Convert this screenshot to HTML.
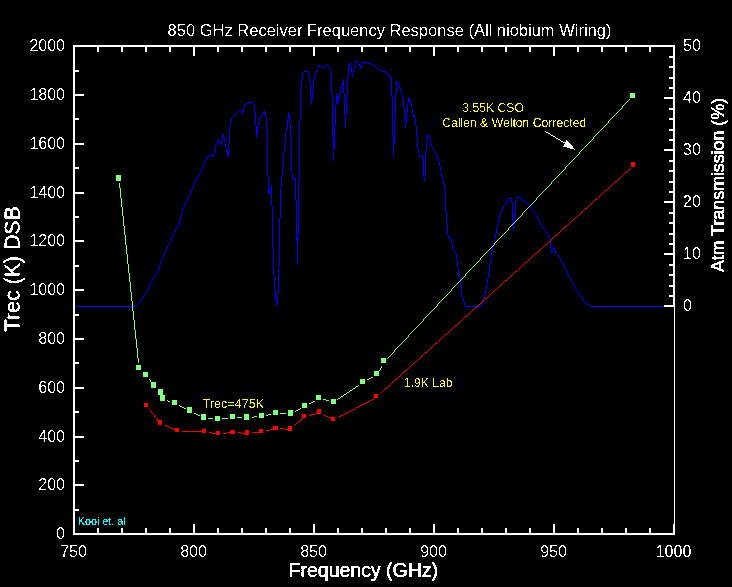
<!DOCTYPE html>
<html lang="en"><head><meta charset="utf-8"><title>850 GHz Receiver Frequency Response</title>
<style>
html,body{margin:0;padding:0;background:#000;}
body{width:732px;height:587px;overflow:hidden;}
svg{display:block;font-family:"Liberation Sans",sans-serif;}
</style></head>
<body>
<svg width="732" height="587" viewBox="0 0 732 587">
<rect width="732" height="587" fill="#000"/>
<g shape-rendering="crispEdges">
<path fill="none" stroke="#0000ff" stroke-width="1" d="M362 62.5h5M367 63.5h4M304 71.5h4M382 71.5h4M336 99.5h3M336 100.5h3M248 102.5h5M259 117.5h3M209 155.5h5M516 197.5h4M508 198.5h4M75 306.5h60M465 306.5h16M591 306.5h74M135.5 305v1M136.5 305v1M137.5 304v1M138.5 303v1M139.5 302v1M140.5 300v2M141.5 299v1M142.5 298v1M143.5 296v2M144.5 295v1M145.5 293v2M146.5 291v2M147.5 289v2M148.5 287v2M149.5 285v2M150.5 283v2M151.5 281v2M152.5 279v2M153.5 278v1M154.5 276v2M155.5 274v2M156.5 273v1M157.5 271v2M158.5 269v2M159.5 265v4M160.5 262v3M161.5 260v2M162.5 258v2M163.5 255v3M164.5 253v2M165.5 250v3M166.5 248v2M167.5 246v2M168.5 244v2M169.5 242v2M170.5 239v3M171.5 237v2M172.5 235v2M173.5 233v2M174.5 231v2M175.5 229v2M176.5 227v2M177.5 226v1M178.5 225v2M179.5 221v4M180.5 217v4M181.5 213v4M182.5 209v4M183.5 207v2M184.5 204v3M185.5 202v2M186.5 200v2M187.5 198v2M188.5 196v2M189.5 194v2M190.5 191v3M191.5 189v2M192.5 187v2M193.5 184v3M194.5 182v2M195.5 180v2M196.5 179v1M197.5 177v2M198.5 176v1M199.5 174v2M200.5 172v2M201.5 169v3M202.5 167v2M203.5 165v2M204.5 162v3M205.5 160v2M206.5 158v2M207.5 156v2M208.5 156v1M213.5 154v1M213.5 156v1M214.5 148v6M215.5 145v3M216.5 143v2M217.5 141v2M218.5 139v2M219.5 141v3M220.5 144v2M221.5 140v4M222.5 136v4M223.5 133v4M224.5 137v6M225.5 143v5M226.5 148v4M227.5 152v4M228.5 144v14M229.5 126v18M230.5 120v6M231.5 118v2M232.5 117v1M233.5 116v1M234.5 115v1M235.5 114v1M236.5 113v1M237.5 112v1M238.5 111v1M239.5 110v1M240.5 110v1M241.5 111v2M242.5 112v3M243.5 108v4M244.5 105v3M245.5 104v1M246.5 103v1M247.5 103v1M253.5 103v2M254.5 105v6M255.5 111v15M256.5 126v12M257.5 127v7M258.5 121v6M259.5 118v3M261.5 116v1M262.5 114v2M263.5 112v2M264.5 110v2M265.5 112v4M266.5 116v11M267.5 127v48M268.5 175v19M269.5 190v3M270.5 188v2M271.5 185v21M272.5 206v42M273.5 248v28M274.5 276v13M275.5 289v12M276.5 301v6M277.5 294v9M278.5 267v27M279.5 218v49M280.5 188v30M281.5 177v11M282.5 167v10M283.5 152v15M284.5 142v10M285.5 133v9M286.5 128v5M287.5 119v9M288.5 112v7M289.5 115v8M290.5 123v13M291.5 136v38M292.5 174v6M293.5 179v1M294.5 178v1M295.5 178v22M296.5 200v41M297.5 236v29M298.5 178v58M299.5 120v58M300.5 87v33M301.5 79v8M302.5 74v5M303.5 72v2M308.5 72v2M309.5 74v8M310.5 82v15M311.5 97v8M312.5 90v10M313.5 80v10M314.5 74v6M315.5 72v2M316.5 69v3M317.5 67v2M318.5 65v2M319.5 65v1M320.5 66v1M321.5 67v1M322.5 67v1M323.5 66v1M324.5 66v1M325.5 65v1M326.5 64v1M327.5 65v1M328.5 66v1M329.5 67v2M330.5 69v2M331.5 71v23M332.5 94v44M333.5 138v23M334.5 126v23M335.5 105v21M336.5 93v6M336.5 101v4M337.5 96v3M338.5 101v2M339.5 94v5M340.5 90v4M341.5 86v4M342.5 82v4M343.5 79v14M344.5 93v23M345.5 116v12M346.5 97v19M347.5 77v20M348.5 65v12M349.5 63v2M350.5 63v4M351.5 67v6M352.5 73v4M353.5 69v4M354.5 65v4M355.5 62v3M356.5 61v1M357.5 61v2M358.5 63v1M359.5 64v2M360.5 66v3M361.5 64v4M362.5 63v1M371.5 64v1M372.5 64v1M373.5 65v1M374.5 65v1M375.5 66v1M376.5 67v1M377.5 67v1M378.5 68v1M379.5 69v1M380.5 70v1M381.5 70v1M385.5 72v1M386.5 73v1M387.5 73v2M388.5 75v1M389.5 75v2M390.5 77v1M391.5 77v20M392.5 97v39M393.5 136v20M394.5 119v25M395.5 94v25M396.5 81v13M397.5 81v1M398.5 82v3M399.5 85v3M400.5 88v3M401.5 91v4M402.5 95v3M403.5 98v9M404.5 107v14M405.5 121v7M406.5 113v10M407.5 103v10M408.5 97v6M409.5 98v3M410.5 101v3M411.5 104v4M412.5 108v5M413.5 113v4M414.5 115v4M415.5 119v7M416.5 126v12M417.5 138v11M418.5 149v5M419.5 154v3M420.5 157v1M421.5 156v1M422.5 155v3M423.5 158v19M424.5 177v4M425.5 151v26M426.5 139v12M427.5 134v5M428.5 135v1M429.5 136v3M430.5 139v5M431.5 144v3M432.5 147v2M433.5 149v2M434.5 151v2M435.5 153v2M436.5 155v2M437.5 157v2M438.5 159v3M439.5 162v4M440.5 166v5M441.5 171v6M442.5 177v3M443.5 180v4M444.5 184v6M445.5 190v21M446.5 211v13M447.5 224v11M448.5 235v4M449.5 238v1M450.5 239v1M451.5 239v4M452.5 243v5M453.5 248v2M454.5 250v2M455.5 252v2M456.5 254v5M457.5 259v8M458.5 267v6M459.5 273v6M460.5 279v8M461.5 287v8M462.5 295v3M463.5 298v4M464.5 302v3M465.5 305v1M481.5 304v2M482.5 302v2M483.5 298v4M484.5 294v4M485.5 289v5M486.5 284v5M487.5 278v6M488.5 272v6M489.5 264v8M490.5 258v6M491.5 252v6M492.5 247v5M493.5 243v4M494.5 239v4M495.5 233v6M496.5 227v6M497.5 223v4M498.5 219v4M499.5 215v4M500.5 212v3M501.5 210v2M502.5 208v2M503.5 206v2M504.5 205v1M505.5 203v2M506.5 201v2M507.5 199v2M511.5 199v3M512.5 202v24M513.5 224v7M514.5 211v13M515.5 201v10M516.5 198v3M520.5 198v1M521.5 199v1M522.5 200v1M523.5 201v1M524.5 201v1M525.5 202v1M526.5 203v1M527.5 203v1M528.5 204v1M529.5 205v1M530.5 206v2M531.5 208v1M532.5 209v2M533.5 211v1M534.5 212v2M535.5 214v1M536.5 215v2M537.5 217v1M538.5 218v2M539.5 220v2M540.5 222v2M541.5 224v2M542.5 226v2M543.5 228v1M544.5 229v1M545.5 230v1M546.5 231v2M547.5 233v1M548.5 234v2M549.5 236v3M550.5 239v11M551.5 250v3M552.5 250v2M553.5 248v2M554.5 247v3M555.5 250v4M556.5 254v1M557.5 255v1M558.5 255v1M559.5 256v2M560.5 258v2M561.5 260v2M562.5 262v2M563.5 264v2M564.5 266v2M565.5 268v2M566.5 270v3M567.5 273v2M568.5 275v2M569.5 277v1M570.5 278v2M571.5 280v1M572.5 281v2M573.5 283v2M574.5 285v2M575.5 287v2M576.5 289v1M577.5 290v2M578.5 292v1M579.5 293v2M580.5 295v1M581.5 296v2M582.5 298v1M583.5 299v2M584.5 301v2M585.5 303v1M586.5 303v1M587.5 304v1M588.5 304v1M589.5 305v1M590.5 305v1"/>
<path fill="none" stroke="#80ff80" stroke-width="1" d="M323 399.5h3M326 400.5h3M280 413.5h6M268 414.5h3M254 416.5h3M237 417.5h5M208 418.5h5M222 418.5h6M119.5 183v5M120.5 188v10M121.5 198v9M122.5 207v9M123.5 216v10M124.5 226v9M125.5 235v10M126.5 245v9M127.5 254v10M128.5 264v9M129.5 273v9M130.5 282v10M131.5 292v9M132.5 301v10M133.5 311v9M134.5 320v10M135.5 330v9M136.5 339v9M137.5 348v10M138.5 358v5M149.5 379v1M150.5 380v2M167.5 400v1M168.5 401v1M169.5 401v1M179.5 405v1M180.5 406v1M181.5 406v1M182.5 407v1M183.5 407v1M184.5 408v1M185.5 408v1M194.5 413v1M195.5 413v1M196.5 414v1M197.5 414v1M198.5 415v1M199.5 415v1M252.5 417v1M253.5 417v1M266.5 415v1M267.5 415v1M295.5 411v1M296.5 410v1M297.5 410v1M298.5 409v1M299.5 409v1M300.5 408v1M309.5 403v1M310.5 403v1M311.5 402v1M312.5 402v1M313.5 401v1M314.5 401v1M337.5 399v1M338.5 398v1M339.5 398v1M340.5 397v1M341.5 396v1M342.5 396v1M343.5 395v1M344.5 394v1M345.5 394v1M346.5 393v1M347.5 392v1M348.5 392v1M349.5 391v1M350.5 390v1M351.5 390v1M352.5 389v1M353.5 388v1M354.5 388v1M355.5 387v1M356.5 386v1M357.5 386v1M358.5 385v1M367.5 379v1M368.5 379v1M369.5 378v1M370.5 378v1M371.5 377v1M372.5 377v1M379.5 370v1M380.5 368v2M381.5 366v2M387.5 358v1M388.5 357v1M389.5 356v1M390.5 355v1M391.5 354v1M392.5 353v1M393.5 352v1M394.5 350v2M395.5 349v1M396.5 348v1M397.5 347v1M398.5 346v1M399.5 345v1M400.5 344v1M401.5 343v1M402.5 342v1M403.5 341v1M404.5 340v1M405.5 339v1M406.5 338v1M407.5 337v1M408.5 335v2M409.5 334v1M410.5 333v1M411.5 332v1M412.5 331v1M413.5 330v1M414.5 329v1M415.5 328v1M416.5 327v1M417.5 326v1M418.5 325v1M419.5 324v1M420.5 323v1M421.5 322v1M422.5 321v1M423.5 319v2M424.5 318v1M425.5 317v1M426.5 316v1M427.5 315v1M428.5 314v1M429.5 313v1M430.5 312v1M431.5 311v1M432.5 310v1M433.5 309v1M434.5 308v1M435.5 307v1M436.5 306v1M437.5 304v2M438.5 303v1M439.5 302v1M440.5 301v1M441.5 300v1M442.5 299v1M443.5 298v1M444.5 297v1M445.5 296v1M446.5 295v1M447.5 294v1M448.5 293v1M449.5 292v1M450.5 291v1M451.5 289v2M452.5 288v1M453.5 287v1M454.5 286v1M455.5 285v1M456.5 284v1M457.5 283v1M458.5 282v1M459.5 281v1M460.5 280v1M461.5 279v1M462.5 278v1M463.5 277v1M464.5 276v1M465.5 274v2M466.5 273v1M467.5 272v1M468.5 271v1M469.5 270v1M470.5 269v1M471.5 268v1M472.5 267v1M473.5 266v1M474.5 265v1M475.5 264v1M476.5 263v1M477.5 262v1M478.5 261v1M479.5 260v1M480.5 258v2M481.5 257v1M482.5 256v1M483.5 255v1M484.5 254v1M485.5 253v1M486.5 252v1M487.5 251v1M488.5 250v1M489.5 249v1M490.5 248v1M491.5 247v1M492.5 246v1M493.5 245v1M494.5 243v2M495.5 242v1M496.5 241v1M497.5 240v1M498.5 239v1M499.5 238v1M500.5 237v1M501.5 236v1M502.5 235v1M503.5 234v1M504.5 233v1M505.5 232v1M506.5 231v1M507.5 230v1M508.5 228v2M509.5 227v1M510.5 226v1M511.5 225v1M512.5 224v1M513.5 223v1M514.5 222v1M515.5 221v1M516.5 220v1M517.5 219v1M518.5 218v1M519.5 217v1M520.5 216v1M521.5 215v1M522.5 213v2M523.5 212v1M524.5 211v1M525.5 210v1M526.5 209v1M527.5 208v1M528.5 207v1M529.5 206v1M530.5 205v1M531.5 204v1M532.5 203v1M533.5 202v1M534.5 201v1M535.5 200v1M536.5 198v2M537.5 197v1M538.5 196v1M539.5 195v1M540.5 194v1M541.5 193v1M542.5 192v1M543.5 191v1M544.5 190v1M545.5 189v1M546.5 188v1M547.5 187v1M548.5 186v1M549.5 185v1M550.5 184v1M551.5 182v2M552.5 181v1M553.5 180v1M554.5 179v1M555.5 178v1M556.5 177v1M557.5 176v1M558.5 175v1M559.5 174v1M560.5 173v1M561.5 172v1M562.5 171v1M563.5 170v1M564.5 169v1M565.5 167v2M566.5 166v1M567.5 165v1M568.5 164v1M569.5 163v1M570.5 162v1M571.5 161v1M572.5 160v1M573.5 159v1M574.5 158v1M575.5 157v1M576.5 156v1M577.5 155v1M578.5 154v1M579.5 152v2M580.5 151v1M581.5 150v1M582.5 149v1M583.5 148v1M584.5 147v1M585.5 146v1M586.5 145v1M587.5 144v1M588.5 143v1M589.5 142v1M590.5 141v1M591.5 140v1M592.5 139v1M593.5 137v2M594.5 136v1M595.5 135v1M596.5 134v1M597.5 133v1M598.5 132v1M599.5 131v1M600.5 130v1M601.5 129v1M602.5 128v1M603.5 127v1M604.5 126v1M605.5 125v1M606.5 124v1M607.5 123v1M608.5 121v2M609.5 120v1M610.5 119v1M611.5 118v1M612.5 117v1M613.5 116v1M614.5 115v1M615.5 114v1M616.5 113v1M617.5 112v1M618.5 111v1M619.5 110v1M620.5 109v1M621.5 108v1M622.5 106v2M623.5 105v1M624.5 104v1M625.5 103v1M626.5 102v1M627.5 101v1M628.5 100v1M629.5 99v1"/>
<rect x="116" y="175" width="5" height="6" fill="#80ff80"/>
<rect x="136" y="365" width="5" height="5" fill="#80ff80"/>
<rect x="143" y="372" width="5" height="5" fill="#80ff80"/>
<rect x="151" y="382" width="5" height="6" fill="#80ff80"/>
<rect x="158" y="389" width="5" height="6" fill="#80ff80"/>
<rect x="160" y="395" width="5" height="6" fill="#80ff80"/>
<rect x="172" y="400" width="5" height="5" fill="#80ff80"/>
<rect x="187" y="407" width="5" height="6" fill="#80ff80"/>
<rect x="201" y="414" width="5" height="6" fill="#80ff80"/>
<rect x="215" y="416" width="5" height="5" fill="#80ff80"/>
<rect x="230" y="414" width="5" height="5" fill="#80ff80"/>
<rect x="244" y="414" width="5" height="6" fill="#80ff80"/>
<rect x="259" y="413" width="5" height="5" fill="#80ff80"/>
<rect x="273" y="410" width="5" height="5" fill="#80ff80"/>
<rect x="288" y="410" width="5" height="6" fill="#80ff80"/>
<rect x="302" y="403" width="5" height="5" fill="#80ff80"/>
<rect x="316" y="395" width="5" height="5" fill="#80ff80"/>
<rect x="331" y="399" width="5" height="5" fill="#80ff80"/>
<rect x="360" y="379" width="5" height="5" fill="#80ff80"/>
<rect x="374" y="371" width="5" height="5" fill="#80ff80"/>
<rect x="381" y="358" width="5" height="5" fill="#80ff80"/>
<rect x="630" y="93" width="5" height="5" fill="#80ff80"/>
<path fill="none" stroke="#ff0000" stroke-width="1" d="M311 414.5h4M280 428.5h4M270 429.5h4M284 429.5h4M266 430.5h4M182 431.5h20M209 432.5h3M227 432.5h4M238 432.5h3M252 432.5h7M212 433.5h4M223 433.5h4M241 433.5h4M149.5 409v1M150.5 410v1M151.5 411v2M152.5 413v1M153.5 414v1M154.5 415v2M155.5 417v1M156.5 418v1M157.5 419v2M158.5 421v1M165.5 425v1M166.5 425v1M167.5 426v1M168.5 426v1M169.5 427v1M170.5 427v1M171.5 428v1M172.5 428v1M173.5 429v1M174.5 429v1M294.5 425v1M295.5 424v1M296.5 423v1M297.5 422v1M298.5 421v1M299.5 421v1M300.5 420v1M301.5 419v1M302.5 418v1M309.5 415v1M310.5 415v1M315.5 413v1M316.5 413v1M323.5 414v1M324.5 415v1M325.5 415v1M326.5 416v1M327.5 416v1M328.5 417v1M329.5 417v1M330.5 418v1M331.5 418v1M338.5 417v1M339.5 416v1M340.5 416v1M341.5 415v1M342.5 415v1M343.5 414v1M344.5 414v1M345.5 413v1M346.5 413v1M347.5 412v1M348.5 412v1M349.5 411v1M350.5 411v1M351.5 410v1M352.5 410v1M353.5 409v1M354.5 409v1M355.5 408v1M356.5 407v1M357.5 407v1M358.5 406v1M359.5 406v1M360.5 405v1M361.5 405v1M362.5 404v1M363.5 404v1M364.5 403v1M365.5 403v1M366.5 402v1M367.5 402v1M368.5 401v1M369.5 401v1M370.5 400v1M371.5 400v1M372.5 399v1M373.5 399v1M374.5 398v1M380.5 393v1M381.5 392v1M382.5 391v1M383.5 390v1M384.5 389v1M385.5 388v1M386.5 388v1M387.5 387v1M388.5 386v1M389.5 385v1M390.5 384v1M391.5 383v1M392.5 382v1M393.5 381v1M394.5 380v1M395.5 379v1M396.5 379v1M397.5 378v1M398.5 377v1M399.5 376v1M400.5 375v1M401.5 374v1M402.5 373v1M403.5 372v1M404.5 371v1M405.5 370v1M406.5 370v1M407.5 369v1M408.5 368v1M409.5 367v1M410.5 366v1M411.5 365v1M412.5 364v1M413.5 363v1M414.5 362v1M415.5 361v1M416.5 361v1M417.5 360v1M418.5 359v1M419.5 358v1M420.5 357v1M421.5 356v1M422.5 355v1M423.5 354v1M424.5 353v1M425.5 352v1M426.5 352v1M427.5 351v1M428.5 350v1M429.5 349v1M430.5 348v1M431.5 347v1M432.5 346v1M433.5 345v1M434.5 344v1M435.5 343v1M436.5 343v1M437.5 342v1M438.5 341v1M439.5 340v1M440.5 339v1M441.5 338v1M442.5 337v1M443.5 336v1M444.5 335v1M445.5 334v1M446.5 334v1M447.5 333v1M448.5 332v1M449.5 331v1M450.5 330v1M451.5 329v1M452.5 328v1M453.5 327v1M454.5 326v1M455.5 325v1M456.5 325v1M457.5 324v1M458.5 323v1M459.5 322v1M460.5 321v1M461.5 320v1M462.5 319v1M463.5 318v1M464.5 317v1M465.5 316v1M466.5 316v1M467.5 315v1M468.5 314v1M469.5 313v1M470.5 312v1M471.5 311v1M472.5 310v1M473.5 309v1M474.5 308v1M475.5 307v1M476.5 307v1M477.5 306v1M478.5 305v1M479.5 304v1M480.5 303v1M481.5 302v1M482.5 301v1M483.5 300v1M484.5 299v1M485.5 298v1M486.5 298v1M487.5 297v1M488.5 296v1M489.5 295v1M490.5 294v1M491.5 293v1M492.5 292v1M493.5 291v1M494.5 290v1M495.5 289v1M496.5 289v1M497.5 288v1M498.5 287v1M499.5 286v1M500.5 285v1M501.5 284v1M502.5 283v1M503.5 282v1M504.5 281v1M505.5 280v1M506.5 280v1M507.5 279v1M508.5 278v1M509.5 277v1M510.5 276v1M511.5 275v1M512.5 274v1M513.5 273v1M514.5 272v1M515.5 271v1M516.5 271v1M517.5 270v1M518.5 269v1M519.5 268v1M520.5 267v1M521.5 266v1M522.5 265v1M523.5 264v1M524.5 263v1M525.5 262v1M526.5 262v1M527.5 261v1M528.5 260v1M529.5 259v1M530.5 258v1M531.5 257v1M532.5 256v1M533.5 255v1M534.5 254v1M535.5 253v1M536.5 253v1M537.5 252v1M538.5 251v1M539.5 250v1M540.5 249v1M541.5 248v1M542.5 247v1M543.5 246v1M544.5 245v1M545.5 244v1M546.5 244v1M547.5 243v1M548.5 242v1M549.5 241v1M550.5 240v1M551.5 239v1M552.5 238v1M553.5 237v1M554.5 236v1M555.5 235v1M556.5 235v1M557.5 234v1M558.5 233v1M559.5 232v1M560.5 231v1M561.5 230v1M562.5 229v1M563.5 228v1M564.5 227v1M565.5 226v1M566.5 226v1M567.5 225v1M568.5 224v1M569.5 223v1M570.5 222v1M571.5 221v1M572.5 220v1M573.5 219v1M574.5 218v1M575.5 217v1M576.5 217v1M577.5 216v1M578.5 215v1M579.5 214v1M580.5 213v1M581.5 212v1M582.5 211v1M583.5 210v1M584.5 209v1M585.5 208v1M586.5 208v1M587.5 207v1M588.5 206v1M589.5 205v1M590.5 204v1M591.5 203v1M592.5 202v1M593.5 201v1M594.5 200v1M595.5 199v1M596.5 199v1M597.5 198v1M598.5 197v1M599.5 196v1M600.5 195v1M601.5 194v1M602.5 193v1M603.5 192v1M604.5 191v1M605.5 190v1M606.5 190v1M607.5 189v1M608.5 188v1M609.5 187v1M610.5 186v1M611.5 185v1M612.5 184v1M613.5 183v1M614.5 182v1M615.5 181v1M616.5 181v1M617.5 180v1M618.5 179v1M619.5 178v1M620.5 177v1M621.5 176v1M622.5 175v1M623.5 174v1M624.5 173v1M625.5 172v1M626.5 172v1M627.5 171v1M628.5 170v1M629.5 169v1M630.5 168v1"/>
<rect x="144" y="403" width="4" height="4" fill="#ff0000"/>
<rect x="158" y="420" width="4" height="5" fill="#ff0000"/>
<rect x="175" y="428" width="4" height="4" fill="#ff0000"/>
<rect x="202" y="429" width="4" height="4" fill="#ff0000"/>
<rect x="216" y="431" width="4" height="4" fill="#ff0000"/>
<rect x="230" y="430" width="5" height="4" fill="#ff0000"/>
<rect x="245" y="430" width="4" height="5" fill="#ff0000"/>
<rect x="259" y="429" width="4" height="4" fill="#ff0000"/>
<rect x="273" y="426" width="5" height="4" fill="#ff0000"/>
<rect x="288" y="426" width="4" height="5" fill="#ff0000"/>
<rect x="302" y="414" width="4" height="4" fill="#ff0000"/>
<rect x="317" y="409" width="4" height="5" fill="#ff0000"/>
<rect x="331" y="417" width="4" height="4" fill="#ff0000"/>
<rect x="374" y="394" width="4" height="4" fill="#ff0000"/>
<rect x="631" y="162" width="4" height="5" fill="#ff0000"/>
<rect x="73" y="45" width="2" height="490" fill="#fff"/>
<rect x="73" y="45" width="602" height="2" fill="#fff"/>
<rect x="73" y="533" width="602" height="2" fill="#fff"/>
<rect x="674" y="45" width="1" height="490" fill="#fff"/>
<rect x="673" y="45" width="2" height="262" fill="#fff"/>
<rect x="73" y="524" width="2" height="9" fill="#fff"/>
<rect x="73" y="47" width="2" height="9" fill="#fff"/>
<rect x="97" y="528" width="2" height="5" fill="#fff"/>
<rect x="97" y="47" width="2" height="5" fill="#fff"/>
<rect x="121" y="528" width="2" height="5" fill="#fff"/>
<rect x="121" y="47" width="2" height="5" fill="#fff"/>
<rect x="145" y="528" width="2" height="5" fill="#fff"/>
<rect x="145" y="47" width="2" height="5" fill="#fff"/>
<rect x="169" y="528" width="2" height="5" fill="#fff"/>
<rect x="169" y="47" width="2" height="5" fill="#fff"/>
<rect x="193" y="524" width="2" height="9" fill="#fff"/>
<rect x="193" y="47" width="2" height="9" fill="#fff"/>
<rect x="217" y="528" width="2" height="5" fill="#fff"/>
<rect x="217" y="47" width="2" height="5" fill="#fff"/>
<rect x="241" y="528" width="2" height="5" fill="#fff"/>
<rect x="241" y="47" width="2" height="5" fill="#fff"/>
<rect x="265" y="528" width="2" height="5" fill="#fff"/>
<rect x="265" y="47" width="2" height="5" fill="#fff"/>
<rect x="289" y="528" width="2" height="5" fill="#fff"/>
<rect x="289" y="47" width="2" height="5" fill="#fff"/>
<rect x="313" y="524" width="2" height="9" fill="#fff"/>
<rect x="313" y="47" width="2" height="9" fill="#fff"/>
<rect x="337" y="528" width="2" height="5" fill="#fff"/>
<rect x="337" y="47" width="2" height="5" fill="#fff"/>
<rect x="361" y="528" width="2" height="5" fill="#fff"/>
<rect x="361" y="47" width="2" height="5" fill="#fff"/>
<rect x="385" y="528" width="2" height="5" fill="#fff"/>
<rect x="385" y="47" width="2" height="5" fill="#fff"/>
<rect x="409" y="528" width="2" height="5" fill="#fff"/>
<rect x="409" y="47" width="2" height="5" fill="#fff"/>
<rect x="433" y="524" width="2" height="9" fill="#fff"/>
<rect x="433" y="47" width="2" height="9" fill="#fff"/>
<rect x="457" y="528" width="2" height="5" fill="#fff"/>
<rect x="457" y="47" width="2" height="5" fill="#fff"/>
<rect x="481" y="528" width="2" height="5" fill="#fff"/>
<rect x="481" y="47" width="2" height="5" fill="#fff"/>
<rect x="505" y="528" width="2" height="5" fill="#fff"/>
<rect x="505" y="47" width="2" height="5" fill="#fff"/>
<rect x="529" y="528" width="2" height="5" fill="#fff"/>
<rect x="529" y="47" width="2" height="5" fill="#fff"/>
<rect x="553" y="524" width="2" height="9" fill="#fff"/>
<rect x="553" y="47" width="2" height="9" fill="#fff"/>
<rect x="577" y="528" width="2" height="5" fill="#fff"/>
<rect x="577" y="47" width="2" height="5" fill="#fff"/>
<rect x="601" y="528" width="2" height="5" fill="#fff"/>
<rect x="601" y="47" width="2" height="5" fill="#fff"/>
<rect x="625" y="528" width="2" height="5" fill="#fff"/>
<rect x="625" y="47" width="2" height="5" fill="#fff"/>
<rect x="649" y="528" width="2" height="5" fill="#fff"/>
<rect x="649" y="47" width="2" height="5" fill="#fff"/>
<rect x="673" y="524" width="2" height="9" fill="#fff"/>
<rect x="673" y="47" width="2" height="9" fill="#fff"/>
<rect x="75" y="533" width="9" height="2" fill="#fff"/>
<rect x="75" y="509" width="4" height="2" fill="#fff"/>
<rect x="75" y="484" width="9" height="2" fill="#fff"/>
<rect x="75" y="460" width="4" height="2" fill="#fff"/>
<rect x="75" y="436" width="9" height="2" fill="#fff"/>
<rect x="75" y="411" width="4" height="2" fill="#fff"/>
<rect x="75" y="387" width="9" height="2" fill="#fff"/>
<rect x="75" y="362" width="4" height="2" fill="#fff"/>
<rect x="75" y="338" width="9" height="2" fill="#fff"/>
<rect x="75" y="314" width="4" height="2" fill="#fff"/>
<rect x="75" y="289" width="9" height="2" fill="#fff"/>
<rect x="75" y="265" width="4" height="2" fill="#fff"/>
<rect x="75" y="240" width="9" height="2" fill="#fff"/>
<rect x="75" y="216" width="4" height="2" fill="#fff"/>
<rect x="75" y="192" width="9" height="2" fill="#fff"/>
<rect x="75" y="167" width="4" height="2" fill="#fff"/>
<rect x="75" y="143" width="9" height="2" fill="#fff"/>
<rect x="75" y="118" width="4" height="2" fill="#fff"/>
<rect x="75" y="94" width="9" height="2" fill="#fff"/>
<rect x="75" y="70" width="4" height="2" fill="#fff"/>
<rect x="75" y="45" width="9" height="2" fill="#fff"/>
<rect x="664" y="305" width="9" height="2" fill="#fff"/>
<rect x="669" y="295" width="4" height="2" fill="#fff"/>
<rect x="669" y="285" width="4" height="2" fill="#fff"/>
<rect x="669" y="274" width="4" height="2" fill="#fff"/>
<rect x="669" y="264" width="4" height="2" fill="#fff"/>
<rect x="664" y="253" width="9" height="2" fill="#fff"/>
<rect x="669" y="243" width="4" height="2" fill="#fff"/>
<rect x="669" y="233" width="4" height="2" fill="#fff"/>
<rect x="669" y="222" width="4" height="2" fill="#fff"/>
<rect x="669" y="212" width="4" height="2" fill="#fff"/>
<rect x="664" y="201" width="9" height="2" fill="#fff"/>
<rect x="669" y="191" width="4" height="2" fill="#fff"/>
<rect x="669" y="181" width="4" height="2" fill="#fff"/>
<rect x="669" y="170" width="4" height="2" fill="#fff"/>
<rect x="669" y="160" width="4" height="2" fill="#fff"/>
<rect x="664" y="149" width="9" height="2" fill="#fff"/>
<rect x="669" y="139" width="4" height="2" fill="#fff"/>
<rect x="669" y="129" width="4" height="2" fill="#fff"/>
<rect x="669" y="118" width="4" height="2" fill="#fff"/>
<rect x="669" y="108" width="4" height="2" fill="#fff"/>
<rect x="664" y="97" width="9" height="2" fill="#fff"/>
<rect x="669" y="87" width="4" height="2" fill="#fff"/>
<rect x="669" y="77" width="4" height="2" fill="#fff"/>
<rect x="669" y="66" width="4" height="2" fill="#fff"/>
<rect x="669" y="56" width="4" height="2" fill="#fff"/>
<rect x="664" y="45" width="9" height="2" fill="#fff"/>
<line x1="545" y1="131.2" x2="565.5" y2="143.5" stroke="#fff" stroke-width="1"/><polygon points="575.8,150 566.5,140 563.2,146.5" fill="#fff"/>
</g>
<g>
<defs><filter id="fx" x="0" y="0" width="732" height="587" filterUnits="userSpaceOnUse" color-interpolation-filters="sRGB"><feComponentTransfer><feFuncA type="discrete" tableValues="0 0 0 0 0 0 0 0 0 1 1 1 1 1 1 1 1 1 1 1"/></feComponentTransfer></filter><filter id="fs" x="0" y="0" width="732" height="587" filterUnits="userSpaceOnUse" color-interpolation-filters="sRGB"><feComponentTransfer><feFuncA type="discrete" tableValues="0 0 0 0 0 0 0 0 0 0 0 1 1 1 1 1 1 1 1 1"/></feComponentTransfer></filter><filter id="fm" x="0" y="0" width="732" height="587" filterUnits="userSpaceOnUse" color-interpolation-filters="sRGB"><feComponentTransfer><feFuncA type="discrete" tableValues="0 0 0 0 0 0 0 0 0 0 0 1 1 1 1 1 1 1 1 1"/></feComponentTransfer></filter><filter id="fl" x="0" y="0" width="732" height="587" filterUnits="userSpaceOnUse" color-interpolation-filters="sRGB"><feComponentTransfer><feFuncA type="discrete" tableValues="0 0 0 0 0 1 1 1 1 1"/></feComponentTransfer></filter></defs>
<g filter="url(#fx)">
<text x="77.7" y="525" font-size="10.8" fill="#00ffff" text-anchor="start">Kooi et. al</text>
</g>
<g filter="url(#fs)">
<text x="462.3" y="112" font-size="12.2" fill="#ffff00" text-anchor="start">3.55K CSO</text>
<text x="442.2" y="127" font-size="12.2" fill="#ffff00" text-anchor="start">Callen &amp; Welton Corrected</text>
<text x="202.5" y="408" font-size="12.4" fill="#ffff00" text-anchor="start" letter-spacing="0.125">Trec=475K</text>
<text x="404" y="387" font-size="12.1" fill="#ffff00" text-anchor="start">1.9K Lab</text>
</g>
<g filter="url(#fm)">
<text transform="translate(65,539) scale(1,1.045)" font-size="16" fill="#fff" text-anchor="end">0</text>
<text transform="translate(65,490) scale(1,1.045)" font-size="16" fill="#fff" text-anchor="end">200</text>
<text transform="translate(65,442) scale(1,1.045)" font-size="16" fill="#fff" text-anchor="end">400</text>
<text transform="translate(65,393) scale(1,1.045)" font-size="16" fill="#fff" text-anchor="end">600</text>
<text transform="translate(65,344) scale(1,1.045)" font-size="16" fill="#fff" text-anchor="end">800</text>
<text transform="translate(65,295) scale(1,1.045)" font-size="16" fill="#fff" text-anchor="end">1000</text>
<text transform="translate(65,246) scale(1,1.045)" font-size="16" fill="#fff" text-anchor="end">1200</text>
<text transform="translate(65,198) scale(1,1.045)" font-size="16" fill="#fff" text-anchor="end">1400</text>
<text transform="translate(65,149) scale(1,1.045)" font-size="16" fill="#fff" text-anchor="end">1600</text>
<text transform="translate(65,100) scale(1,1.045)" font-size="16" fill="#fff" text-anchor="end">1800</text>
<text transform="translate(65,51) scale(1,1.045)" font-size="16" fill="#fff" text-anchor="end">2000</text>
<text transform="translate(73.5,557) scale(1,1.045)" font-size="16" fill="#fff" text-anchor="middle">750</text>
<text transform="translate(193.5,557) scale(1,1.045)" font-size="16" fill="#fff" text-anchor="middle">800</text>
<text transform="translate(313.5,557) scale(1,1.045)" font-size="16" fill="#fff" text-anchor="middle">850</text>
<text transform="translate(433.5,557) scale(1,1.045)" font-size="16" fill="#fff" text-anchor="middle">900</text>
<text transform="translate(553.5,557) scale(1,1.045)" font-size="16" fill="#fff" text-anchor="middle">950</text>
<text transform="translate(673.5,557) scale(1,1.045)" font-size="16" fill="#fff" text-anchor="middle">1000</text>
<text transform="translate(683,311) scale(1,1.045)" font-size="16" fill="#fff" text-anchor="start">0</text>
<text transform="translate(683,259) scale(1,1.045)" font-size="16" fill="#fff" text-anchor="start">10</text>
<text transform="translate(683,207) scale(1,1.045)" font-size="16" fill="#fff" text-anchor="start">20</text>
<text transform="translate(683,155) scale(1,1.045)" font-size="16" fill="#fff" text-anchor="start">30</text>
<text transform="translate(683,103) scale(1,1.045)" font-size="16" fill="#fff" text-anchor="start">40</text>
<text transform="translate(683,51) scale(1,1.045)" font-size="16" fill="#fff" text-anchor="start">50</text>
<text x="167.6" y="36" font-size="16.5" fill="#fff" text-anchor="start">850 GHz Receiver Frequency Response (All niobium Wiring)</text>
</g>
<g filter="url(#fl)">
<text x="288.6" y="577.4" font-size="20" fill="#fff" text-anchor="start" stroke="#fff" stroke-width="0.35" textLength="149.5" lengthAdjust="spacingAndGlyphs">Frequency (GHz)</text>
<text transform="translate(19.6,332.2) rotate(-90)" font-size="21.33" fill="#fff" stroke="#fff" stroke-width="0.35">Trec (K) DSB</text>
<text transform="translate(724,272) rotate(-90)" font-size="17.8" fill="#fff" stroke="#fff" stroke-width="0.45">Atm Transmission (%)</text>
</g>
</g>
</svg>
</body></html>
